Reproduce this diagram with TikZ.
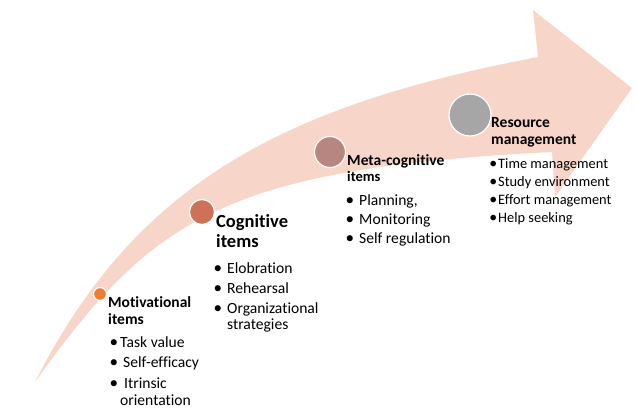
\documentclass[tikz,border=0pt]{standalone}
\usepackage{fontspec}
\setmainfont{Carlito}[Ligatures=NoCommon]
\definecolor{arrowpink}{HTML}{F7D5C9}
\definecolor{cmot}{HTML}{ED7D31}
\definecolor{ccog}{HTML}{CD7257}
\definecolor{cmeta}{HTML}{B88680}
\definecolor{cres}{HTML}{A6A6A6}
\newcommand\bl[1]{\llap{\raisebox{-0.02em}{\scalebox{1.1}{•}}\hspace{#1}}}
\tikzset{
  dotnode/.style={circle, draw=white, line width=1.2pt, inner sep=0pt},
  headtext/.style={anchor=base west, inner sep=0pt, font=\fontsize{15.5}{18}\selectfont\bfseries},
  bigtext/.style={anchor=base west, inner sep=0pt, font=\fontsize{18.5}{21}\selectfont\bfseries},
  itemtext/.style={anchor=base west, inner sep=0pt, font=\fontsize{15.6}{18}\selectfont},
  smallitem/.style={anchor=base west, inner sep=0pt, font=\fontsize{14.4}{17}\selectfont},
}
\begin{document}
\begin{tikzpicture}[x=1pt,y=-1pt]
\useasboundingbox (0,0) rectangle (637,412);
% curved arrow
\fill[arrowpink] (35,382) .. controls (134,187) and (277,106.5) .. (538,57)
  -- (533,10) -- (632,88) -- (555,197) -- (552,152)
  .. controls (222,168.5) and (151,220) .. (35,382) -- cycle;
% circles
\node[dotnode, fill=cmot, minimum size=13pt] (c1) at (100,294) {};
\node[dotnode, fill=ccog, minimum size=25pt] (c2) at (202,212) {};
\node[dotnode, fill=cmeta, minimum size=31pt] (c3) at (330,152) {};
\node[dotnode, fill=cres, minimum size=42pt] (c4) at (470,115) {};
% Motivational
\node[headtext] (m1) at (108,307) {Motivational};
\node[headtext] (m2) at (108,324) {items};
\node[itemtext] (m3) at (120,347) {\bl{2pt}Task value};
\node[itemtext] (m4) at (123,367) {\bl{5pt}Self-efficacy};
\node[itemtext] (m5) at (124,388) {\bl{6pt}Itrinsic};
\node[itemtext] (m6) at (120,405) {orientation};
% Cognitive
\node[bigtext] (g1) at (216,227) {Cognitive};
\node[bigtext] (g2) at (216,247) {items};
\node[itemtext] (g3) at (227,273) {\bl{5pt}Elobration};
\node[itemtext] (g4) at (227,293) {\bl{5pt}Rehearsal};
\node[itemtext] (g5) at (227,313) {\bl{5pt}Organizational};
\node[itemtext] (g6) at (227,329) {strategies};
% Meta-cognitive
\node[headtext] (t1) at (347,165) {Meta-cognitive};
\node[headtext, font=\fontsize{14.5}{17}\selectfont\bfseries] (t2) at (347,181) {items};
\node[itemtext] (t3) at (359,205) {\bl{5pt}Planning,};
\node[itemtext] (t4) at (359,224) {\bl{5pt}Monitoring};
\node[itemtext] (t5) at (359,243) {\bl{5pt}Self regulation};
% Resource management
\node[headtext] (r1) at (491,127) {Resource};
\node[headtext] (r2) at (491,144) {management};
\node[smallitem] (r3) at (498,168) {\bl{1pt}Time management};
\node[smallitem] (r4) at (498,186) {\bl{1pt}Study environment};
\node[smallitem] (r5) at (498,204) {\bl{1pt}Effort management};
\node[smallitem] (r6) at (498,222) {\bl{1pt}Help seeking};
\end{tikzpicture}
\end{document}
